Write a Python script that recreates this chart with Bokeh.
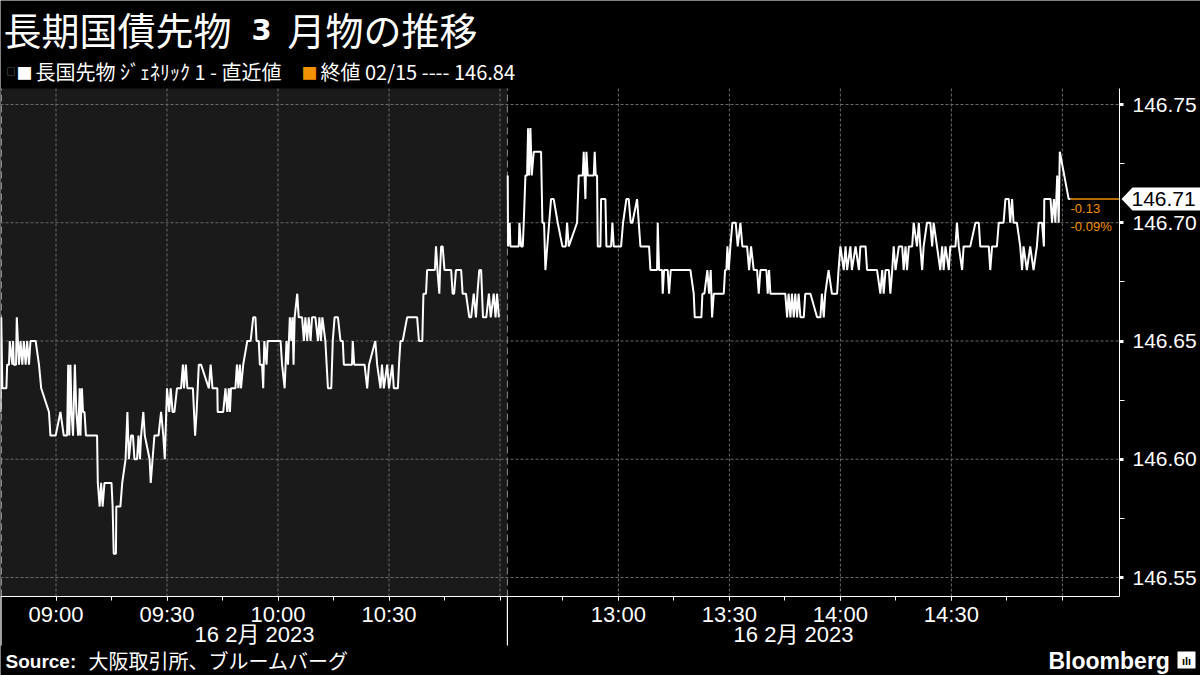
from bokeh.plotting import figure
from bokeh.models import (Range1d, FixedTicker, Label, PolyAnnotation, NumeralTickFormatter)
from bokeh.embed import file_html
from bokeh.resources import INLINE

# ---------------- data ----------------
title_a = "長期国債先物"
title_b = "3"
title_c = "月物の推移"
legend_main = "長国先物 ｼﾞｪﾈﾘｯｸ 1 - 直近値"
prev_close = 146.84
prev_date = "02/15"
date_label = "16 2月 2023"
source_txt = "大阪取引所、ブルームバーグ"

am_open, am_close, pm_open = "08:45", "11:02", "12:30"

# minutes after 08:45 (morning session)
am_t = [0.0, 0.2, 0.5, 1.6, 1.8, 2.3, 2.5, 3.2, 3.4, 3.6, 4.2, 4.4, 4.7, 5.0, 5.4, 5.9, 6.3, 6.8,
        7.2, 7.7, 8.1, 9.5, 10.4, 11.0, 13.1, 13.5, 14.9, 16.2, 17.1, 18.0, 18.3, 18.6, 18.9,
        19.2, 19.6, 20.1, 20.5, 21.0, 21.4, 21.6, 22.0, 22.3, 22.7, 23.1, 26.1, 26.3, 26.8,
        27.2, 27.6, 28.1, 30.0, 30.3, 30.6, 31.2, 31.3, 32.4, 32.9, 33.8, 34.3, 34.7, 35.3,
        35.8, 36.2, 36.9, 37.3, 37.7, 38.0, 38.6, 39.0, 40.3, 40.6, 41.1, 41.6, 42.7, 43.4,
        44.0, 44.4, 45.0, 45.6, 46.0, 46.5, 47.0, 47.7, 48.8, 49.3, 49.6, 50.1, 50.5, 52.0,
        52.3, 52.6, 53.0, 53.6, 54.2, 56.3, 56.8, 57.3, 58.6, 58.7, 60.2, 60.8, 61.3, 61.7,
        62.0, 62.3, 63.5, 63.9, 64.3, 64.7, 65.0, 65.6, 66.7, 67.6, 68.3, 68.9, 69.2, 69.8,
        70.1, 70.7, 71.0, 71.3, 71.9, 72.2, 75.7, 76.1, 76.8, 77.3, 77.7, 78.2, 78.6, 78.9,
        79.2, 79.5, 80.2, 80.6, 81.5, 82.0, 82.4, 82.9, 83.3, 83.8, 84.2, 85.1, 85.8, 86.2,
        86.6, 87.0, 87.8, 88.5, 89.4, 89.8, 90.3, 91.2, 91.9, 92.5, 92.8, 95.0, 95.2, 95.6,
        98.4, 99.1, 99.6, 101.3, 101.8, 102.7, 103.1, 103.6, 104.5, 105.0, 105.9, 106.3,
        107.4, 107.7, 108.1, 108.7, 109.9, 112.6, 113.1, 114.0, 114.3, 115.0, 115.3, 117.4,
        117.7, 118.1, 118.6, 118.8, 119.1, 119.5, 120.0, 121.8, 122.2, 122.6, 123.1, 124.5,
        124.9, 125.8, 126.7, 127.2, 127.9, 128.5, 128.9, 129.4, 129.9, 130.4, 131.3, 132.0,
        132.5, 133.3, 133.8, 134.2, 134.7]
am_v = [146.62, 146.66, 146.63, 146.63, 146.64, 146.64, 146.65, 146.64, 146.65, 146.64, 146.64,
        146.66, 146.65, 146.64, 146.65, 146.64, 146.65, 146.64, 146.65, 146.64, 146.65, 146.65,
        146.64, 146.63, 146.62, 146.61, 146.61, 146.62, 146.61, 146.61, 146.64, 146.61, 146.64,
        146.62, 146.61, 146.64, 146.62, 146.61, 146.63, 146.61, 146.63, 146.62, 146.62, 146.61,
        146.61, 146.59, 146.58, 146.59, 146.58, 146.59, 146.59, 146.58, 146.56, 146.56, 146.58,
        146.58, 146.59, 146.60, 146.62, 146.60, 146.61, 146.61, 146.60, 146.60, 146.61, 146.60,
        146.61, 146.62, 146.61, 146.60, 146.59, 146.60, 146.61, 146.61, 146.62, 146.61, 146.60,
        146.63, 146.62, 146.63, 146.62, 146.62, 146.63, 146.63, 146.64, 146.63, 146.64, 146.63,
        146.63, 146.62, 146.61, 146.62, 146.64, 146.64, 146.63, 146.64, 146.63, 146.63, 146.62,
        146.62, 146.63, 146.62, 146.63, 146.62, 146.63, 146.63, 146.64, 146.63, 146.64, 146.63,
        146.64, 146.65, 146.65, 146.66, 146.66, 146.65, 146.65, 146.64, 146.64, 146.63, 146.65,
        146.64, 146.65, 146.65, 146.64, 146.63, 146.65, 146.64, 146.66, 146.65, 146.66, 146.64,
        146.66, 146.67, 146.66, 146.66, 146.65, 146.66, 146.65, 146.66, 146.65, 146.66, 146.66,
        146.65, 146.66, 146.65, 146.66, 146.65, 146.63, 146.63, 146.65, 146.66, 146.66, 146.65,
        146.65, 146.64, 146.64, 146.65, 146.64, 146.64, 146.63, 146.64, 146.65, 146.64, 146.63,
        146.64, 146.63, 146.64, 146.63, 146.64, 146.63, 146.63, 146.64, 146.65, 146.65, 146.66,
        146.66, 146.65, 146.65, 146.67, 146.67, 146.68, 146.68, 146.69, 146.68, 146.67, 146.68,
        146.69, 146.69, 146.68, 146.68, 146.67, 146.67, 146.68, 146.68, 146.67, 146.67, 146.66,
        146.66, 146.67, 146.66, 146.67, 146.68, 146.68, 146.66, 146.66, 146.67, 146.66, 146.67,
        146.66, 146.67, 146.66]

# minutes after 12:30 (afternoon session)
pm_t = [0.09, 0.18, 0.63, 0.81, 3.07, 3.25, 3.7, 4.15, 4.42, 4.87, 5.32, 5.59, 5.86, 6.22, 6.58,
        7.12, 9.1, 9.46, 9.91, 10.27, 11.8, 12.52, 13.6, 14.87, 15.77, 16.13, 16.58, 18.83,
        19.28, 20.36, 20.63, 21.08, 21.35, 21.71, 23.33, 23.6, 23.87, 24.23, 24.42, 25.14,
        25.32, 26.49, 26.76, 28.02, 28.38, 28.74, 30.72, 31.26, 32.16, 32.79, 33.33, 33.78,
        35.05, 35.95, 38.29, 38.65, 40.45, 40.63, 40.99, 41.8, 41.98, 42.34, 43.33, 43.69,
        44.14, 49.46, 50.36, 50.63, 52.43, 52.7, 53.24, 54.05, 54.5, 54.95, 55.32, 55.77,
        58.47, 58.83, 59.19, 59.46, 59.82, 60.27, 60.81, 61.71, 62.25, 62.97, 63.51, 64.78,
        65.32, 65.86, 66.58, 67.48, 67.93, 68.38, 70.0, 70.36, 70.72, 71.08, 73.78, 75.1,
        75.6, 76.0, 76.5, 76.9, 77.4, 77.8, 78.3, 78.7, 79.2, 80.1, 80.5, 81.9, 83.7, 84.6,
        85.0, 85.5, 85.9, 86.8, 87.7, 89.1, 89.5, 90.0, 90.9, 91.4, 91.8, 92.7, 93.1, 94.1,
        95.0, 95.4, 96.8, 97.2, 99.9, 100.8, 101.3, 101.7, 102.2, 103.1, 103.5, 104.0, 104.4,
        104.9, 105.8, 106.7, 107.1, 107.6, 108.0, 108.5, 109.4, 109.8, 110.7, 111.2, 111.6,
        112.1, 112.5, 113.4, 114.3, 114.8, 115.2, 116.1, 117.0, 117.5, 117.9, 118.4, 119.3,
        119.7, 121.1, 121.5, 122.0, 122.9, 123.3, 125.1, 126.5, 127.4, 127.8, 130.1, 130.5,
        131.0, 132.3, 132.8, 134.1, 134.6, 135.5, 135.9, 136.4, 136.8, 137.7, 138.6, 139.1,
        139.5, 140.4, 141.3, 142.2, 143.1, 143.6, 144.5, 145.0, 145.1, 146.8, 147.2, 147.7,
        148.1, 148.6, 149.0, 149.3, 151.7, 152.2]
pm_v = [146.72, 146.69, 146.70, 146.69, 146.69, 146.70, 146.69, 146.69, 146.70, 146.72, 146.72,
        146.74, 146.72, 146.74, 146.72, 146.73, 146.73, 146.70, 146.70, 146.68, 146.71, 146.71,
        146.70, 146.69, 146.69, 146.70, 146.69, 146.70, 146.72, 146.72, 146.73, 146.71, 146.73,
        146.72, 146.72, 146.73, 146.72, 146.72, 146.69, 146.69, 146.71, 146.71, 146.69, 146.69,
        146.70, 146.69, 146.69, 146.70, 146.71, 146.71, 146.70, 146.70, 146.71, 146.69, 146.69,
        146.68, 146.68, 146.70, 146.68, 146.68, 146.67, 146.68, 146.68, 146.67, 146.68, 146.68,
        146.67, 146.66, 146.66, 146.67, 146.67, 146.68, 146.67, 146.68, 146.66, 146.67, 146.67,
        146.68, 146.68, 146.69, 146.68, 146.69, 146.70, 146.70, 146.69, 146.70, 146.69, 146.69,
        146.68, 146.69, 146.68, 146.68, 146.67, 146.68, 146.68, 146.67, 146.68, 146.67, 146.67,
        146.67, 146.66, 146.67, 146.66, 146.67, 146.66, 146.67, 146.66, 146.67, 146.66, 146.66,
        146.67, 146.67, 146.66, 146.66, 146.67, 146.66, 146.67, 146.68, 146.67, 146.67, 146.68,
        146.69, 146.68, 146.69, 146.68, 146.69, 146.68, 146.69, 146.68, 146.69, 146.69, 146.68,
        146.68, 146.67, 146.68, 146.67, 146.68, 146.68, 146.67, 146.68, 146.69, 146.68, 146.69,
        146.69, 146.68, 146.69, 146.68, 146.69, 146.69, 146.70, 146.69, 146.70, 146.69, 146.68,
        146.69, 146.70, 146.70, 146.69, 146.70, 146.69, 146.68, 146.69, 146.68, 146.69, 146.68,
        146.69, 146.69, 146.70, 146.69, 146.68, 146.69, 146.69, 146.70, 146.70, 146.69, 146.69,
        146.68, 146.69, 146.69, 146.70, 146.70, 146.71, 146.71, 146.70, 146.71, 146.70, 146.70,
        146.69, 146.68, 146.69, 146.68, 146.69, 146.68, 146.69, 146.70, 146.70, 146.69, 146.71,
        146.71, 146.70, 146.71, 146.70, 146.72, 146.70, 146.73, 146.71, 146.71]

x_tick_labels = ["09:00", "09:30", "10:00", "10:30", "13:00", "13:30", "14:00", "14:30"]
x_minor_labels = ["09:00", "09:15", "09:30", "09:45", "10:00", "10:15", "10:30", "10:45", "11:00",
                  "12:45", "13:00", "13:15", "13:30", "13:45", "14:00", "14:15", "14:30", "14:45",
                  "15:00"]
x_grid_labels = ["09:00", "09:30", "10:00", "10:30", "11:00", "13:00", "13:30", "14:00", "14:30",
                 "15:00"]
y_ticks = [146.55, 146.60, 146.65, 146.70, 146.75]
y_minor = [146.575, 146.625, 146.675, 146.725]


def hm(s):
    h, m = s.split(":")
    return int(h) * 60 + int(m)


AM_LEN = hm(am_close) - hm(am_open)


def axis_pos(s):
    t = hm(s)
    if t <= hm(am_close):
        return t - hm(am_open)
    return AM_LEN + t - hm(pm_open)


am_x = list(am_t)
pm_x = [AM_LEN + t for t in pm_t]

# ---------------- layout (canvas pixels -> data) ----------------
W, H = 1200, 675
PXM = 3.7          # px per trading minute
PYU = 2365.0       # px per price unit


def X(px):
    return px / PXM


def Y(py):
    return 146.75 - (py - 104) / PYU


def DY(dpx):
    return dpx / PYU


X_END = X(1119)     # right edge of plot area
Y_TOP = Y(88)
Y_BOT = Y(596)

CJK = "Noto Sans CJK JP"
LAT = "Liberation Sans"
ORANGE = "#f39200"
GRID = "#6a6a6a"

p = figure(width=W, height=H, x_range=Range1d(X(0), X(W)), y_range=Range1d(Y(H), Y(0)),
           y_axis_location="right", output_backend="svg", toolbar_location=None,
           min_border_left=0, min_border_right=0, min_border_top=0, min_border_bottom=0,
           background_fill_color="black", border_fill_color="black", outline_line_color=None)
p.xgrid.visible = False
p.ygrid.visible = False

# morning session shading
p.quad(left=[0], right=[AM_LEN], bottom=[Y_BOT], top=[Y_TOP], fill_color="#1a1a1a",
       line_color=None, level="image")

# grid (bounded to plot area)
p.segment(x0=[0] * len(y_ticks), y0=y_ticks, x1=[X_END] * len(y_ticks), y1=y_ticks,
          line_color=GRID, line_dash="3 2", line_width=1, level="underlay")
gx = [axis_pos(s) for s in x_grid_labels]
p.segment(x0=gx, y0=[Y_BOT] * len(gx), x1=gx, y1=[Y_TOP] * len(gx),
          line_color=GRID, line_dash="3 2", line_width=1, level="underlay")
# session boundaries
p.segment(x0=[X(1), AM_LEN], y0=[Y_BOT] * 2, x1=[X(1), AM_LEN], y1=[Y_TOP] * 2,
          line_color="#8c8c8c", line_dash="7 4", line_width=1, level="underlay")
p.segment(x0=[X(0.5), AM_LEN], y0=[Y_BOT] * 2, x1=[X(0.5), AM_LEN], y1=[Y(645)] * 2,
          line_color="white", line_width=1.2)

# axes at fixed locations
xa = p.xaxis[0]
xa.fixed_location = Y_BOT
xa.bounds = (0, X_END)
xa.ticker = FixedTicker(ticks=[axis_pos(s) for s in x_tick_labels],
                        minor_ticks=[axis_pos(s) for s in x_minor_labels])
xa.major_label_overrides = {axis_pos(s): s for s in x_tick_labels}
xa.axis_line_color = "white"
xa.major_tick_line_color = "white"
xa.minor_tick_line_color = "white"
xa.major_tick_in = 0
xa.major_tick_out = 4
xa.minor_tick_in = 0
xa.minor_tick_out = 4
xa.major_label_text_color = "white"
xa.major_label_text_font = LAT
xa.major_label_text_font_size = "22px"
xa.major_label_standoff = 1

ya = p.yaxis[0]
ya.fixed_location = X_END
ya.bounds = (Y_BOT, Y_TOP)
ya.ticker = FixedTicker(ticks=y_ticks, minor_ticks=y_minor)
ya.formatter = NumeralTickFormatter(format="0.00")
ya.axis_line_color = "white"
ya.major_tick_line_color = "white"
ya.minor_tick_line_color = "white"
ya.major_tick_in = 0
ya.major_tick_out = 4
ya.major_tick_line_width = 3
ya.minor_tick_in = 0
ya.minor_tick_out = 5
ya.major_label_text_color = "white"
ya.major_label_text_font = LAT
ya.major_label_text_font_size = "21px"
ya.major_label_standoff = 8

# price lines
p.line(am_x, am_v, line_color="white", line_width=2)
p.line(pm_x, pm_v, line_color="white", line_width=2)

last = pm_v[-1]
chg = last - prev_close
pct = chg / prev_close * 100
p.segment(x0=[pm_x[-1]], y0=[last], x1=[X_END], y1=[last], line_color=ORANGE, line_width=1.5)

p.add_layout(Label(x=X(1070), y=last - DY(9), text=f"{chg:.2f}", text_color=ORANGE,
                   text_font=LAT, text_font_size="13px", text_baseline="middle"))
p.add_layout(Label(x=X(1070), y=last - DY(27), text=f"{pct:.2f}%", text_color=ORANGE,
                   text_font=LAT, text_font_size="13px", text_baseline="middle"))

# last-value tag
h = DY(11.5)
p.add_layout(PolyAnnotation(xs=[X(1121), X(1132), X(1200), X(1200), X(1132)],
                            ys=[last, last + h, last + h, last - h, last - h],
                            fill_color="white", fill_alpha=1, line_color=None))
p.add_layout(Label(x=X(1131), y=last, text=f"{last:.2f}", text_color="black",
                   text_font=LAT, text_font_size="21px", text_baseline="middle"))

# title
p.add_layout(Label(x=X(3), y=Y(28), text=title_a, text_color="white", text_font=CJK,
                   text_font_size="38px", text_baseline="middle"))
p.add_layout(Label(x=X(251), y=Y(29), text=title_b, text_color="white",
                   text_font="DejaVu Sans", text_font_style="bold",
                   text_font_size="29px", text_baseline="middle"))
p.add_layout(Label(x=X(287), y=Y(28), text=title_c, text_color="white", text_font=CJK,
                   text_font_size="38px", text_baseline="middle"))

# legend line
p.add_layout(Label(x=X(6), y=Y(71), text="□", text_color="#9a9a9a", text_font=CJK,
                   text_font_size="9px", text_baseline="middle"))
p.add_layout(Label(x=X(16), y=Y(71), text="■", text_color="white", text_font=CJK,
                   text_font_size="16px", text_baseline="middle"))
p.add_layout(Label(x=X(35), y=Y(71), text=legend_main, text_color="white", text_font=CJK,
                   text_font_size="20px", text_baseline="middle"))
p.add_layout(Label(x=X(301), y=Y(71), text="■", text_color=ORANGE, text_font=CJK,
                   text_font_size="16px", text_baseline="middle"))
p.add_layout(Label(x=X(320), y=Y(71), text=f"終値 {prev_date} ---- {prev_close:.2f}",
                   text_color="white", text_font=CJK, text_font_size="20px",
                   text_baseline="middle"))

# date labels under each session
for cx in (X(254), X(793)):
    p.add_layout(Label(x=cx, y=Y(634), text=date_label, text_color="white",
                       text_font=f"{LAT}, {CJK}", text_font_size="22px",
                       text_align="center", text_baseline="middle"))

# source + brand
p.add_layout(Label(x=X(5), y=Y(661), text="Source:", text_color="white", text_font=LAT,
                   text_font_style="bold", text_font_size="19px", text_baseline="middle"))
p.add_layout(Label(x=X(88), y=Y(660), text=source_txt, text_color="white", text_font=CJK,
                   text_font_size="20px", text_baseline="middle"))
p.add_layout(Label(x=X(1048), y=Y(660), text="Bloomberg", text_color="white",
                   text_font=LAT, text_font_style="bold", text_font_size="23px",
                   text_baseline="middle"))
p.add_layout(PolyAnnotation(xs=[X(1177), X(1195), X(1195), X(1177)],
                            ys=[Y(651), Y(651), Y(668), Y(668)],
                            fill_color="white", fill_alpha=1, line_color=None))
p.add_layout(Label(x=X(1186), y=Y(660), text="ılı", text_color="black", text_font=LAT,
                   text_font_style="bold", text_font_size="11px", text_align="center",
                   text_baseline="middle"))

open("out.html", "w").write(file_html(p, INLINE))
